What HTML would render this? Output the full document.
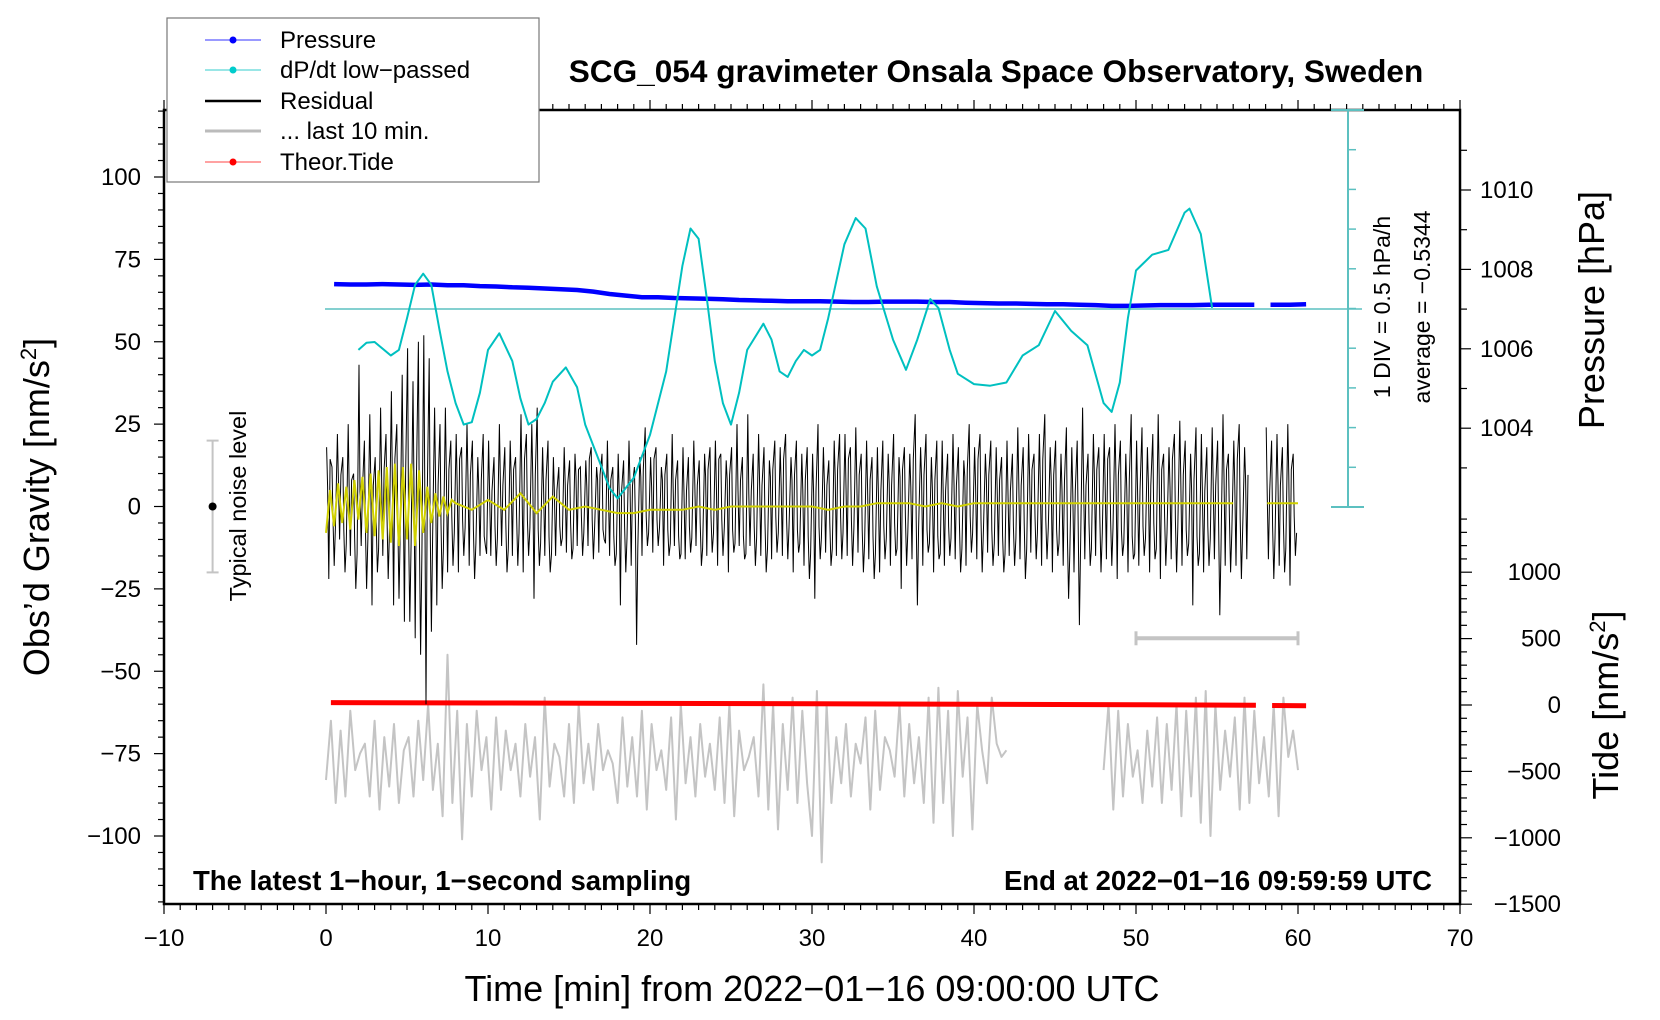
<!DOCTYPE html>
<html><head><meta charset="utf-8"><style>
html,body{margin:0;padding:0;background:#fff;}
svg{display:block;font-family:"Liberation Sans",Arial,sans-serif;}
</style></head><body>
<svg id="chart" width="1660" height="1020" viewBox="0 0 1660 1020" xmlns="http://www.w3.org/2000/svg">
<rect x="0" y="0" width="1660" height="1020" fill="#fff"/>
<g id="series"></g>
<g id="axes"></g>
<text x="996" y="82" font-size="31.6" font-weight="bold" text-anchor="middle">SCG_054 gravimeter Onsala Space Observatory, Sweden</text>
<text x="193" y="890" font-size="27.5" font-weight="bold">The latest 1−hour, 1−second sampling</text>
<text x="1432" y="890" font-size="27.5" font-weight="bold" text-anchor="end">End at 2022−01−16 09:59:59 UTC</text>
<text x="812" y="1001" font-size="36" text-anchor="middle">Time [min] from 2022−01−16 09:00:00 UTC</text>
<text transform="translate(49,507) rotate(-90)" font-size="36" text-anchor="middle">Obs’d Gravity [nm/s<tspan font-size="22" dy="-13">2</tspan><tspan dy="13">]</tspan></text>
<text transform="translate(1604,310) rotate(-90)" font-size="36" text-anchor="middle">Pressure [hPa]</text>
<text transform="translate(1618,705) rotate(-90)" font-size="36" text-anchor="middle">Tide [nm/s<tspan font-size="22" dy="-13">2</tspan><tspan dy="13">]</tspan></text>
<text transform="translate(1390,307) rotate(-90)" font-size="23" text-anchor="middle">1 DIV = 0.5 hPa/h</text>
<text transform="translate(1430,307) rotate(-90)" font-size="23" text-anchor="middle">average = −0.5344</text>
<text transform="translate(246,506) rotate(-90)" font-size="23.5" text-anchor="middle">Typical noise level</text>
<g>
<rect x="167" y="18" width="372" height="164" fill="#fff" stroke="#777" stroke-width="1.2"/>
<g><line x1="205" y1="40" x2="261" y2="40" stroke="#33f" stroke-width="1"/><circle cx="233" cy="40" r="3.5" fill="#00f"/><text x="280" y="48" font-size="24">Pressure</text></g>
<g><line x1="205" y1="70" x2="261" y2="70" stroke="#3cc" stroke-width="1"/><circle cx="233" cy="70" r="3.5" fill="#0cc"/><text x="280" y="78" font-size="24">dP/dt low−passed</text></g>
<g><line x1="205" y1="101" x2="261" y2="101" stroke="#000" stroke-width="2.5"/><text x="280" y="109" font-size="24">Residual</text></g>
<g><line x1="205" y1="131" x2="261" y2="131" stroke="#bbb" stroke-width="3"/><text x="280" y="139" font-size="24">... last 10 min.</text></g>
<g><line x1="205" y1="162" x2="261" y2="162" stroke="#f44" stroke-width="1"/><circle cx="233" cy="162" r="3.5" fill="#f00"/><text x="280" y="170" font-size="24">Theor.Tide</text></g>
</g>
</svg>
<script>
// ---------- data ----------
const resHi = [18,12,22,15,25,10, 43,20,28,15,30,22, 35,25,40,48,38,50, 52,45,30,25,30,20,
 22,18,25,20,15,22, 20,15,25,18,20,15, 28,22,25,30,18,20, 15,12,18,14,16,12, 14,18,12,16,20,12,
 16,14,20,12,15,24, 15,18,12,16,22,14, 18,15,20,14,16,18, 20,16,14,18,25,15, 28,16,22,18,14,20,
 18,22,15,20,16,18, 16,25,18,14,20,22, 22,18,24,16,20,15, 18,20,16,22,15,18, 16,28,18,22,15,20,
 20,16,22,18,14,25, 18,22,16,20,18,15, 20,16,24,18,22,16, 22,28,18,20,16,24, 18,20,30,16,22,18,
 22,18,25,20,16,28, 20,24,18,22,28,16, 18,22,26,20,16,24, 22,18,24,20,28,16, 20,25,18,null,null,null,
 24,20,22,18,25,16];
const resLo = [-22,-18,-10,-20,-15,-25, -12,-25,-30,-20,-15,-22, -30,-28,-35,-35,-40,-45, -60,-38,-30,-25,-20,-18,
 -20,-15,-18,-22,-15,-12, -15,-18,-12,-20,-15,-18, -20,-15,-28,-18,-15,-20, -15,-12,-14,-16,-12,-15, -12,-16,-14,-10,-15,-18,
 -30,-20,-18,-42,-15,-12, -14,-12,-18,-15,-12,-16, -16,-14,-12,-18,-15,-14, -18,-15,-20,-14,-12,-16, -12,-18,-15,-20,-16,-14,
 -15,-16,-20,-14,-18,-22, -28,-16,-14,-18,-15,-16, -15,-18,-14,-20,-16,-22, -20,-16,-18,-15,-25,-18, -16,-30,-18,-14,-20,-16,
 -18,-15,-16,-20,-18,-14, -16,-20,-14,-18,-15,-20, -15,-18,-16,-22,-14,-16, -18,-16,-20,-15,-18,-28, -20,-36,-16,-18,-15,-20,
 -16,-18,-22,-15,-20,-16, -18,-15,-20,-16,-22,-18, -16,-20,-18,-15,-30,-18, -20,-18,-16,-33,-18,-20, -18,-22,-16,null,null,null,
 -16,-22,-18,-20,-24,-15];
const resMid = [6,-4,8,-7,5,-9,4,-6,7,-5,9,-3];
const yelT = [0,0.25,0.5,0.75,1,1.25,1.5,1.75,2,2.25,2.5,2.75,3,3.25,3.5,3.75,4,4.25,4.5,4.75,5,5.25,5.5,5.75,6,6.25,6.5,6.75,7,7.25,7.5,7.75,
 8,9,10,11,12,13,14,15,16,17,18,19,20,21,22,23,24,25,26,27,28,29,30,31,32,33,34,35,36,37,38,39,40,41,42,43,44,45,46,47,48,49,50,51,52,53,54,55,56,56.9,58.1,59,60];
const yelV = [-8,5,-6,7,-5,6,-7,8,-4,9,-8,10,-9,11,-10,12,-11,13,-12,12,-10,13,-12,11,-8,6,-5,4,-3,3,-2,2,
 1,-1,2,-1,4,-2,3,-1,0,-1,-2,-2,-1,-1,-1,0,-1,0,0,0,0,0,0,-1,0,0,1,1,1,0,1,0,1,1,1,1,1,1,1,1,1,1,1,1,1,1,1,1,1,null,1,1,1];
const grayA = [-83,-65,-90,-68,-88,-62,-80,-75,-72,-88,-65,-92,-70,-85,-66,-90,-74,-70,-88,-65,
 -83,-60,-86,-72,-94,-45,-90,-62,-101,-66,-88,-62,-80,-70,-92,-64,-86,-68,-80,-72,
 -88,-66,-82,-70,-95,-58,-85,-72,-76,-88,-66,-90,-60,-84,-72,-86,-66,-80,-74,-78,
 -90,-64,-85,-70,-88,-62,-92,-66,-80,-74,-86,-64,-95,-60,-84,-70,-88,-66,-82,-72,
 -86,-64,-90,-60,-94,-68,-80,-76,-70,-88,-54,-92,-60,-98,-66,-86,-58,-90,-62,-84,
 -100,-56,-108,-60,-90,-70,-84,-66,-88,-72,-78,-64,-92,-62,-86,-70,-74,-82,-60,-88,
 -66,-84,-70,-90,-58,-96,-55,-90,-62,-100,-56,-82,-64,-98,-60,-74,-84,-58,-72,-76,-74];
const grayAStart = 0;
const grayB = [-80,-60,-92,-62,-88,-66,-82,-74,-90,-68,-85,-64,-90,-66,-86,-60,-94,-62,-88,-58,-96,-56,-100,-60,-86,-68,-82,-64,-92,-58,-90,-62,-84,-70,-88,-60,-94,-58,-76,-68,-80];
const grayBStart = 48;
const grayStep = 0.3;
const tideT = [0.3,10,20,30,40,50,57.4,null,58.4,60.5];
const tideV = [18,15,12,9,5,2,-2,null,-4,-6];
const pressT = [0.5,1.5,2.5,3.5,4.5,5.5,6.5,7.5,8.5,9.5,10.5,11.5,12.5,13.5,14.5,15.5,16.5,17.5,18.5,19.5,20.5,21.5,22.5,23.5,24.5,25.5,26.5,27.5,28.5,29.5,30.5,31.5,32.5,33.5,34.5,35.5,36.5,37.5,38.5,39.5,40.5,41.5,42.5,43.5,44.5,45.5,46.5,47.5,48.5,49.5,50.5,51.5,52.5,53.5,54.5,55.5,57.3,null,58.3,59.5,60.5];
const pressV = [1007.63,1007.62,1007.62,1007.63,1007.62,1007.61,1007.62,1007.6,1007.6,1007.58,1007.57,1007.55,1007.54,1007.52,1007.5,1007.48,1007.44,1007.38,1007.34,1007.3,1007.3,1007.28,1007.27,1007.26,1007.25,1007.23,1007.22,1007.21,1007.2,1007.2,1007.2,1007.19,1007.18,1007.18,1007.19,1007.19,1007.19,1007.18,1007.18,1007.16,1007.15,1007.14,1007.14,1007.13,1007.12,1007.12,1007.11,1007.1,1007.08,1007.08,1007.09,1007.1,1007.1,1007.1,1007.11,1007.11,1007.11,null,1007.11,1007.11,1007.12];
const dpT = [2,2.5,3,4,4.5,5,5.5,6,6.5,7,7.5,8,8.5,9,9.5,10,10.7,11.5,12,12.5,13,13.5,14,14.8,15.5,16,17,17.5,18,19,20,21,22,22.5,23,23.5,24,24.5,25,25.5,26,27,27.5,28,28.5,29,29.5,30,30.5,31,32,32.7,33.3,34,35,35.8,36.5,37.3,37.8,38.5,39,40,41,42,43,44,45,46,47,48,48.5,49,49.5,50,51,52,53,53.3,54,54.7];
const dpV = [-1.05,-0.96,-0.95,-1.12,-1.05,-0.65,-0.23,-0.09,-0.23,-0.79,-1.32,-1.72,-1.99,-1.96,-1.59,-1.05,-0.84,-1.19,-1.66,-1.99,-1.92,-1.72,-1.45,-1.27,-1.52,-1.99,-2.52,-2.79,-2.92,-2.66,-2.12,-1.32,0.01,0.48,0.35,-0.39,-1.19,-1.72,-1.99,-1.59,-1.05,-0.72,-0.92,-1.32,-1.39,-1.19,-1.05,-1.12,-1.05,-0.65,0.28,0.61,0.48,-0.25,-0.92,-1.30,-0.92,-0.41,-0.52,-1.05,-1.35,-1.48,-1.50,-1.46,-1.12,-0.99,-0.56,-0.81,-0.99,-1.72,-1.83,-1.46,-0.65,-0.05,0.15,0.21,0.68,0.73,0.41,-0.52];
const dpAverage = -0.5344;
const xTickLabels = ["−10","0","10","20","30","40","50","60","70"];
const leftTickLabels = ["−100","−75","−50","−25","0","25","50","75","100"];
const pressTickLabels = ["1004","1006","1008","1010"];
const tideTickLabels = ["−1500","−1000","−500","0","500","1000"];

// ---------- scales ----------
const X = t => 326 + t*16.2;
const YL = v => 506.5 - v*3.295;
const YP = p => 190 + (1010-p)*39.7;
const YT = v => 705 - v*0.1328;
const YD = v => 309 - (v - dpAverage)/0.5*39.7;
const NS = "http://www.w3.org/2000/svg";
const ser = document.getElementById('series');
const ax = document.getElementById('axes');
function mk(tag, parent, attrs){ const e=document.createElementNS(NS,tag); for(const k in attrs) e.setAttribute(k,attrs[k]); parent.appendChild(e); return e; }
function pathFrom(ts, vs, fy){ let d='', pen=false; for(let i=0;i<ts.length;i++){ if(ts[i]===null||vs[i]===null){pen=false;continue;} d+=(pen?'L':'M')+X(ts[i]).toFixed(1)+','+fy(vs[i]).toFixed(1); pen=true;} return d; }

const gT1 = grayA.map((v,i)=>grayAStart+i*grayStep);
let g1 = mk('path', ser, {d:pathFrom(gT1,grayA,YL), fill:'none', stroke:'#c4c4c4', 'stroke-width':2, 'stroke-linejoin':'round'});


const gT2 = grayB.map((v,i)=>grayBStart+i*grayStep);
let g2 = mk('path', ser, {d:pathFrom(gT2,grayB,YL), fill:'none', stroke:'#c4c4c4', 'stroke-width':2, 'stroke-linejoin':'round'});



let tp = mk('path', ser, {d:pathFrom(tideT,tideV,YT), fill:'none', stroke:'#f00', 'stroke-width':5});



let bl = mk('line', ser, {x1:325, x2:1362, y1:YD(dpAverage), y2:YD(dpAverage), stroke:'#5cc0c0', 'stroke-width':1.6});



const rT=[], rV=[];
for(let i=0;i<resHi.length;i++){ const t0=i/3;
  rT.push(t0+0.04); rV.push(resHi[i]);
  rT.push(t0+0.10); rV.push(resHi[i]===null?null:resMid[i%resMid.length]);
  rT.push(t0+0.17); rV.push(resLo[i]);
  rT.push(t0+0.25); rV.push(resHi[i]===null?null:-resMid[(i+5)%resMid.length]*1.6); }
let rp = mk('path', ser, {d:pathFrom(rT,rV,YL), fill:'none', stroke:'#000', 'stroke-width':1});



let yp = mk('path', ser, {d:pathFrom(yelT,yelV,YL), fill:'none', stroke:'#d0d000', 'stroke-width':2});



let pp = mk('path', ser, {d:pathFrom(pressT,pressV,YP), fill:'none', stroke:'#0000ff', 'stroke-width':4.5});



let dp = mk('path', ser, {d:pathFrom(dpT,dpV,YD), fill:'none', stroke:'#00c0c0', 'stroke-width':2, 'stroke-linejoin':'round'});



let nb = mk('g', ser, {});


mk('line', nb, {x1:X(-7),x2:X(-7),y1:YL(20),y2:YL(-20),stroke:'#c4c4c4','stroke-width':2});
mk('line', nb, {x1:X(-7)-6,x2:X(-7)+6,y1:YL(20),y2:YL(20),stroke:'#c4c4c4','stroke-width':2});
mk('line', nb, {x1:X(-7)-6,x2:X(-7)+6,y1:YL(-20),y2:YL(-20),stroke:'#c4c4c4','stroke-width':2});
mk('circle', nb, {cx:X(-7),cy:YL(0),r:4,fill:'#000'});

let sb = mk('g', ser, {});


mk('line', sb, {x1:X(50),x2:X(60),y1:YL(-40),y2:YL(-40),stroke:'#c4c4c4','stroke-width':4});
mk('line', sb, {x1:X(50),x2:X(50),y1:YL(-40)-7,y2:YL(-40)+7,stroke:'#c4c4c4','stroke-width':3});
mk('line', sb, {x1:X(60),x2:X(60),y1:YL(-40)-7,y2:YL(-40)+7,stroke:'#c4c4c4','stroke-width':3});

// ---------- axes ----------
const L=X(-10), R=X(70), T=110, B=904;
let fr = mk('rect', ax, {x:L,y:T,width:R-L,height:B-T,fill:'none',stroke:'#000','stroke-width':2.5});


for(let t=-10;t<=70;t++){ const big=t%10===0, len=big?10:6;
  mk('line', ax, {x1:X(t),x2:X(t),y1:B,y2:B+len,stroke:'#000','stroke-width':1.2});
  mk('line', ax, {x1:X(t),x2:X(t),y1:T,y2:T-len,stroke:'#000','stroke-width':1.2}); }
xTickLabels.forEach((s,i)=>{ const t=-10+i*10;
  const e = mk('text', ax, {x:X(t), y:946, 'font-size':24, 'text-anchor':'middle'}); e.textContent=s;
  
   });
for(let v=-120;v<=120;v+=5){ const big=v%25===0;
  mk('line', ax, {x1:L,x2:L-(big?10:6),y1:YL(v),y2:YL(v),stroke:'#000','stroke-width':1.2}); }
leftTickLabels.forEach((s,i)=>{ const v=-100+i*25;
  const e = mk('text', ax, {x:141, y:YL(v)+8, 'font-size':24, 'text-anchor':'end'}); e.textContent=s;
  
   });
for(let p=1003;p<=1011;p++){ mk('line', ax, {x1:R,x2:R+(p%2===0?11:7),y1:YP(p),y2:YP(p),stroke:'#000','stroke-width':1.2}); }
pressTickLabels.forEach((s,i)=>{ const p=1004+i*2;
  const e = mk('text', ax, {x:1480, y:YP(p)+8, 'font-size':24}); e.textContent=s;
  
   });
for(let v=-1500;v<=1400;v+=100){ mk('line', ax, {x1:R,x2:R+(v%500===0?12:7),y1:YT(v),y2:YT(v),stroke:'#000','stroke-width':1.2}); }
tideTickLabels.forEach((s,i)=>{ const v=-1500+i*500;
  const e = mk('text', ax, {x:1561, y:YT(v)+8, 'font-size':24, 'text-anchor':'end'}); e.textContent=s;
  
   });
let da = mk('g', ax, {});


mk('line', da, {x1:1348,x2:1348,y1:110,y2:507,stroke:'#5cc0c0','stroke-width':2});
mk('line', da, {x1:1331,x2:1364,y1:110,y2:110,stroke:'#5cc0c0','stroke-width':2});
mk('line', da, {x1:1331,x2:1364,y1:507,y2:507,stroke:'#5cc0c0','stroke-width':2});
for(let k=1;k<10;k++){ mk('line', da, {x1:1348,x2:1356,y1:110+k*39.7,y2:110+k*39.7,stroke:'#5cc0c0','stroke-width':1.5}); }
</script>
</body></html>
